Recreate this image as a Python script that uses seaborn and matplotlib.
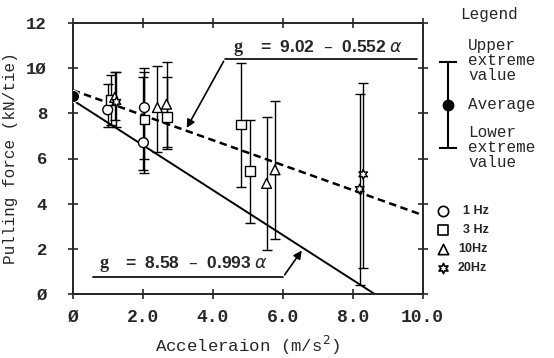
import numpy as np
import pandas as pd
import seaborn as sns
import matplotlib.pyplot as plt

freq = ["1 Hz", "3 Hz", "10Hz", "20Hz",
        "1 Hz", "3 Hz", "1 Hz", "10Hz", "10Hz", "3 Hz",
        "3 Hz", "3 Hz", "10Hz", "10Hz", "20Hz", "20Hz"]
accel = [1.00, 1.10, 1.20, 1.25,
         2.05, 2.05, 2.02, 2.42, 2.68, 2.70,
         4.80, 5.07, 5.54, 5.78, 8.30, 8.20]
avg = [8.15, 8.60, 8.70, 8.50,
       8.25, 7.72, 6.70, 8.25, 8.40, 7.85,
       7.50, 5.45, 4.90, 5.50, 5.30, 4.65]
low = [7.40, 7.50, 7.70, 7.40,
       5.35, 6.00, 5.50, 6.30, 6.40, 6.50,
       4.75, 3.15, 1.95, 2.45, 1.15, 0.40]
high = [9.30, 9.70, 9.80, 9.80,
        10.00, 9.80, 9.60, 10.10, 10.25, 9.60,
        10.20, 7.70, 7.85, 8.55, 9.35, 8.85]

static_x = [0.0]
static_y = [8.75]

# regression lines g = a - b * alpha
fit_dyn = (9.02, 0.552)   # dashed
fit_min = (8.58, 0.993)   # solid

legend_freqs = ["1 Hz", "3 Hz", "10Hz", "20Hz"]
marker_map = {"1 Hz": "o", "3 Hz": "s", "10Hz": "^", "20Hz": (6, 1, 0)}

df = pd.DataFrame({"freq": freq, "accel": accel, "avg": avg, "low": low, "high": high})

sns.set_style("ticks")
mono = ["Liberation Mono", "DejaVu Sans Mono"]
narrow = ["Liberation Sans Narrow", "Liberation Sans", "DejaVu Sans"]
plt.rcParams["font.family"] = mono

W, H = 554, 358
fig = plt.figure(figsize=(W / 100, H / 100), dpi=100)
ax = fig.add_axes([72.7 / W, 1 - 294.3 / H, 350 / W, 271.6 / H])

# error bars
ax.errorbar(df.accel, df.avg, yerr=[df.avg - df.low, df.high - df.avg],
            fmt="none", ecolor="black", elinewidth=1.0, capsize=3.8, capthick=1.0, zorder=2)

# regression lines
xs = np.linspace(0, 10, 50)
line_df = pd.DataFrame({"x": xs, "dyn": fit_dyn[0] - fit_dyn[1] * xs,
                        "min": fit_min[0] - fit_min[1] * xs})
sns.lineplot(data=line_df, x="x", y="dyn", ax=ax, color="black", lw=1.8,
             linestyle=(0, (3, 1.8)), zorder=1)
line_min = line_df[line_df["min"] >= 0]
x_end = fit_min[0] / fit_min[1]
sns.lineplot(x=list(line_min.x) + [x_end], y=list(line_min["min"]) + [0], ax=ax,
             color="black", lw=1.4, zorder=1)

# data markers
sns.scatterplot(data=df, x="accel", y="avg", style="freq", markers=marker_map,
                style_order=legend_freqs, color="white", edgecolor="black",
                linewidth=1.0, s=50, legend=False, ax=ax, zorder=3)
sns.scatterplot(x=static_x, y=static_y, color="black", s=75, ax=ax, zorder=3)

ax.set_xlim(0, 10)
ax.set_ylim(0, 12)
ax.set_xticks([0, 2, 4, 6, 8, 10])
ax.set_xticklabels(["Ø", "2.0", "4.0", "6.0", "8.0", "10.0"], fontsize=13, fontweight="bold")
ax.set_yticks([0, 2, 4, 6, 8, 10, 12])
ax.set_yticklabels(["Ø", "2", "4", "6", "8", "1Ø", "12"], fontsize=12.5, fontweight="bold")
ax.tick_params(direction="inout", length=7, width=1.2, top=True, right=True)
ax.tick_params(axis="x", pad=7)
ax.tick_params(axis="y", pad=15)
for s in ax.spines.values():
    s.set_linewidth(1.4)
ax.set_xlabel("Acceleraion (m/s$^2$)", fontsize=12.5, labelpad=6)
ax.set_ylabel("Pulling force (kN/tie)", fontsize=11.5, labelpad=6)

# equation labels with leader lines
eq_kw = dict(fontsize=12.5, fontweight="bold", family=narrow)
ax.text(4.59, 10.7, "g", fontsize=13, fontweight="bold", family="Liberation Serif")
ax.text(5.35, 10.7, "=  9.02  –  0.552 $\\alpha$", **eq_kw)
ax.plot([4.35, 9.84], [10.4, 10.4], color="black", lw=1.2, clip_on=False)
xa = 3.22
ax.annotate("", xy=(xa, fit_dyn[0] - fit_dyn[1] * xa), xytext=(4.35, 10.4),
            arrowprops=dict(arrowstyle="-|>", color="black", lw=1.2, mutation_scale=12))

ax.text(0.78, 1.16, "g", fontsize=13, fontweight="bold", family="Liberation Serif")
ax.text(1.5, 1.16, "=  8.58  –  0.993 $\\alpha$", **eq_kw)
ax.plot([0.58, 6.01], [0.76, 0.76], color="black", lw=1.2)
xb = 6.59
ax.annotate("", xy=(xb, fit_min[0] - fit_min[1] * xb), xytext=(6.01, 0.76),
            arrowprops=dict(arrowstyle="-|>", color="black", lw=1.2, mutation_scale=12))

# legend panel, in pixel coordinates
lg = fig.add_axes([0, 0, 1, 1], facecolor="none")
lg.set_xlim(0, W)
lg.set_ylim(H, 0)
lg.axis("off")
leg_font = 11.5
lg.text(460, 15, "Legend", fontsize=leg_font, va="center")
lg.errorbar([448], [105], yerr=[[43], [43]], fmt="o", color="black", ms=7.5,
            elinewidth=1.5, capsize=6.5, capthick=1.5)
lg.text(468, 38, "Upper\nextreme\nvalue", fontsize=leg_font, va="top", linespacing=1.0)
lg.text(468, 104, "Average", fontsize=leg_font, va="center")
lg.text(468, 125, "Lower\nextreme\nvalue", fontsize=leg_font, va="top", linespacing=1.0)
for i, f in enumerate(legend_freqs):
    yy = 211 + i * 19
    lg.scatter([443], [yy], marker=marker_map[f], s=55, facecolor="white",
               edgecolor="black", linewidth=1.2)
    lg.text(458 + (5 if i < 2 else 0), yy, f, fontsize=9, fontweight="bold",
            family=narrow, va="center")

fig.savefig("out.png", dpi=100)
